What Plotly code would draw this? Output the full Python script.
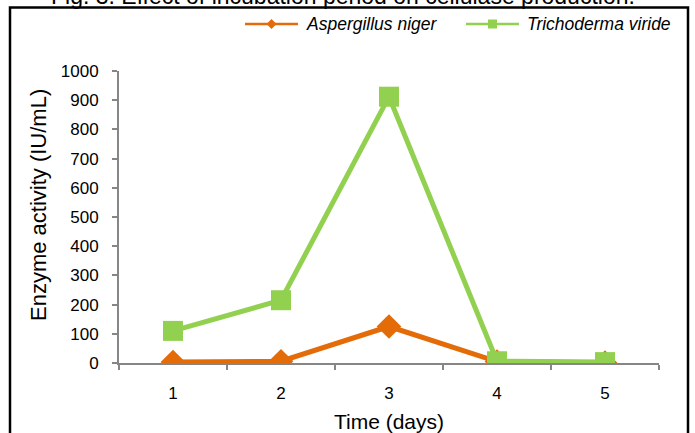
import plotly.graph_objects as go

days = ["1", "2", "3", "4", "5"]
aspergillus = [3, 6, 125, 5, 1]
trichoderma = [110, 215, 912, 6, 3]
series_names = ["Aspergillus niger", "Trichoderma viride"]
y_ticks = [0, 100, 200, 300, 400, 500, 600, 700, 800, 900, 1000]
title_text = "Fig. 3. Effect of incubation period on cellulase production."
x_title = "Time (days)"
y_title = "Enzyme activity (IU/mL)"

ORANGE = "#E36C09"
GREEN = "#92D050"
AXIS = "#868686"
FONT = "Liberation Sans, Arial, sans-serif"

W, H = 695, 433
L, R, T, B = 119, 36, 71, 70
pw, ph = W - L - R, H - T - B


def px_x(x):
    return (x - L) / pw


def px_y(y):
    return (H - B - y) / ph


fig = go.Figure()
fig.add_trace(go.Scatter(x=days, y=aspergillus, mode="lines+markers", name=series_names[0],
                         line=dict(color=ORANGE, width=5),
                         marker=dict(symbol="diamond", size=19, color=ORANGE),
                         showlegend=False))
fig.add_trace(go.Scatter(x=days, y=trichoderma, mode="lines+markers", name=series_names[1],
                         line=dict(color=GREEN, width=5),
                         marker=dict(symbol="square", size=20, color=GREEN),
                         showlegend=False))

shapes = [dict(type="rect", xref="paper", yref="paper",
               x0=px_x(10), x1=px_x(688), y0=px_y(470), y1=px_y(7.5),
               line=dict(color="black", width=2.5), fillcolor="rgba(0,0,0,0)", layer="below")]
annotations = []

# manual legend (line + marker + italic label)
legend_items = [
    (series_names[0], ORANGE, 245, 298, "diamond"),
    (series_names[1], GREEN, 466, 519, "square"),
]
ly = 24
for name, col, x0, x1, sym in legend_items:
    shapes.append(dict(type="line", xref="paper", yref="paper",
                       x0=px_x(x0), x1=px_x(x1), y0=px_y(ly), y1=px_y(ly),
                       line=dict(color=col, width=2.5)))
    xc = (x0 + x1) / 2
    if sym == "diamond":
        path = "M -5 0 L 0 5 L 5 0 L 0 -5 Z"
    else:
        path = "M -4.5 -4.5 L 4.5 -4.5 L 4.5 4.5 L -4.5 4.5 Z"
    shapes.append(dict(type="path", xref="paper", yref="paper",
                       xsizemode="pixel", ysizemode="pixel",
                       xanchor=px_x(xc), yanchor=px_y(ly), path=path,
                       fillcolor=col, line=dict(color=col, width=0)))
    annotations.append(dict(text=name, xref="paper", yref="paper",
                            x=px_x(x1 + 6), y=px_y(ly), xanchor="left", yanchor="middle",
                            showarrow=False,
                            font=dict(family=FONT, size=17.5, style="italic", color="black")))

annotations.append(dict(text=title_text, xref="paper", yref="paper",
                        x=px_x(343), y=px_y(11), xanchor="center", yanchor="bottom",
                        showarrow=False, font=dict(family=FONT, size=23, color="black")))
annotations.append(dict(text=y_title, xref="paper", yref="paper", textangle=-90,
                        x=px_x(39), y=px_y(205), xanchor="center", yanchor="middle",
                        showarrow=False, font=dict(family=FONT, size=22, color="black")))

fig.update_layout(
    width=W, height=H,
    margin=dict(l=L, r=R, t=T, b=B, autoexpand=False),
    paper_bgcolor="white", plot_bgcolor="white",
    font=dict(family=FONT, size=17, color="black"),
    showlegend=False,
    xaxis=dict(type="category", range=[-0.5, 4.5], tickson="boundaries", automargin=False,
               showline=True, linecolor=AXIS, linewidth=2,
               ticks="outside", ticklen=5, tickwidth=1.5, tickcolor=AXIS,
               showgrid=False, zeroline=False, ticklabelstandoff=14,
               tickfont=dict(size=17),
               title=dict(text=x_title, font=dict(size=21), standoff=12)),
    yaxis=dict(range=[0, 1000], tickvals=y_ticks, automargin=False,
               showline=True, linecolor=AXIS, linewidth=2,
               ticks="outside", ticklen=5, tickwidth=1.5, tickcolor=AXIS,
               showgrid=False, zeroline=False, ticklabelstandoff=10,
               tickfont=dict(size=17)),
    shapes=shapes,
    annotations=annotations,
)

fig.write_html("out.html", config={"displayModeBar": False},
               post_script="document.body.style.margin='0px';")
